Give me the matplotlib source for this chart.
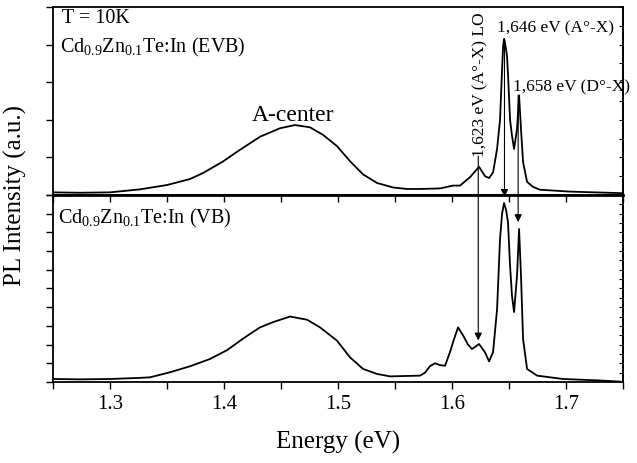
"""PL spectra of CdZnTe:In (EVB / VB), two stacked panels"""

import matplotlib
matplotlib.use('Agg')
import matplotlib.pyplot as plt
from matplotlib.ticker import MultipleLocator, NullFormatter

# Top panel: Cd0.9Zn0.1Te:In (EVB)
evb_energy = [1.2500, 1.2737, 1.3000, 1.3263, 1.3500, 1.3702, 1.3816, 1.3991, 1.4114,
              1.4228, 1.4316, 1.4491, 1.4623, 1.4754, 1.4868, 1.4991, 1.5105, 1.5219,
              1.5342, 1.5482, 1.5605, 1.5719, 1.5895, 1.6009, 1.6070, 1.6158, 1.6237,
              1.6289, 1.6325, 1.6360, 1.6395, 1.6421, 1.6439, 1.6448, 1.6456, 1.6465,
              1.6482, 1.6491, 1.6509, 1.6526, 1.6544, 1.6570, 1.6588, 1.6605, 1.6623,
              1.6658, 1.6711, 1.6772, 1.7035, 1.7474, 1.7500]
evb_intensity = [0.014, 0.012, 0.014, 0.030, 0.053, 0.085, 0.117, 0.178, 0.230,
                 0.275, 0.310, 0.355, 0.372, 0.360, 0.320, 0.260, 0.180, 0.110,
                 0.064, 0.040, 0.032, 0.032, 0.035, 0.050, 0.050, 0.095, 0.150,
                 0.100, 0.090, 0.120, 0.245, 0.400, 0.670, 0.790, 0.830, 0.810,
                 0.740, 0.640, 0.400, 0.315, 0.245, 0.350, 0.530, 0.350, 0.175,
                 0.070, 0.043, 0.028, 0.018, 0.010, 0.010]

# Bottom panel: Cd0.9Zn0.1Te:In (VB)
vb_energy = [1.2500, 1.2737, 1.3000, 1.3263, 1.3351, 1.3526, 1.3702, 1.3877, 1.4026,
             1.4140, 1.4228, 1.4316, 1.4430, 1.4579, 1.4728, 1.4842, 1.4991, 1.5105,
             1.5219, 1.5342, 1.5456, 1.5719, 1.5763, 1.5807, 1.5851, 1.5895, 1.5939,
             1.5982, 1.6018, 1.6053, 1.6096, 1.6140, 1.6175, 1.6237, 1.6289, 1.6325,
             1.6360, 1.6395, 1.6421, 1.6439, 1.6456, 1.6474, 1.6491, 1.6509, 1.6526,
             1.6544, 1.6570, 1.6588, 1.6605, 1.6623, 1.6658, 1.6746, 1.6974, 1.7298,
             1.7474]
vb_intensity = [0.016, 0.014, 0.016, 0.022, 0.025, 0.052, 0.084, 0.123, 0.170,
                0.220, 0.257, 0.292, 0.320, 0.350, 0.333, 0.292, 0.221, 0.132,
                0.070, 0.043, 0.030, 0.034, 0.050, 0.085, 0.100, 0.090, 0.087,
                0.160, 0.230, 0.292, 0.250, 0.200, 0.176, 0.203, 0.159, 0.110,
                0.160, 0.390, 0.765, 0.900, 0.957, 0.920, 0.854, 0.620, 0.460,
                0.374, 0.568, 0.818, 0.568, 0.230, 0.070, 0.034, 0.016, 0.008,
                0.002]

# Peak markers: energy, arrow start (top panel), arrow tip (bottom panel)
peak_energy = [1.623, 1.646, 1.658]
arrow_start = [0.207, 0.83, 0.53]
arrow_tip = [0.222, 0.99, 0.855]

xticks = [1.3, 1.4, 1.5, 1.6, 1.7]


def main():
    plt.rcParams['font.family'] = ['Liberation Serif', 'DejaVu Serif']
    plt.rcParams['mathtext.default'] = 'regular'

    fig = plt.figure(figsize=(6.37, 4.64), dpi=100)
    ax_bot = fig.add_axes([0.0832, 0.1746, 0.8949, 0.4030])
    ax_top = fig.add_axes([0.0832, 0.5776, 0.8949, 0.4052])

    ax_top.plot(evb_energy, evb_intensity, color='black', lw=1.3)
    ax_bot.plot(vb_energy, vb_intensity, color='black', lw=1.3)

    for ax, ystep in ((ax_top, 0.2), (ax_bot, 0.1)):
        ax.set_facecolor('none')
        ax.set_xlim(1.25, 1.75)
        ax.set_ylim(0, 1)
        ax.xaxis.set_major_locator(MultipleLocator(0.1))
        ax.xaxis.set_minor_locator(MultipleLocator(0.05))
        ax.yaxis.set_major_locator(MultipleLocator(ystep))
        ax.yaxis.set_major_formatter(NullFormatter())
        ax.tick_params(axis='x', which='both', direction='out', length=5, width=1,
                       top=False, labelsize=15)
        ax.tick_params(axis='y', which='major', direction='out', length=5, width=1,
                       right=False)
        for sp in ax.spines.values():
            sp.set_linewidth(1.3)
        # right side: small inward ticks
        sec = ax.secondary_yaxis('right')
        sec.yaxis.set_major_locator(MultipleLocator(ystep / 2))
        sec.yaxis.set_major_formatter(NullFormatter())
        sec.tick_params(direction='in', length=3, width=0.8)
        sec.spines['right'].set_linewidth(1.3)

    ax_top.spines['bottom'].set_linewidth(2)
    ax_top.xaxis.set_major_formatter(NullFormatter())
    ax_bot.set_xticks(xticks)
    ax_bot.set_xlabel('Energy (eV)', fontsize=18, labelpad=12)
    fig.text(0.025, 0.5776, 'PL Intensity (a.u.)', rotation=90, fontsize=18,
             ha='center', va='center')

    # labels
    ax_top.text(0.016, 0.945, 'T = 10K', transform=ax_top.transAxes,
                fontsize=14.5, va='center', ha='left')
    ax_top.text(0.012, 0.79, r'Cd$_{0.9}$Zn$_{0.1}$Te:In (EVB)', transform=ax_top.transAxes,
                fontsize=14.5, va='center', ha='left')
    ax_bot.text(0.009, 0.88, r'Cd$_{0.9}$Zn$_{0.1}$Te:In (VB)', transform=ax_bot.transAxes,
                fontsize=14.5, va='center', ha='left')
    ax_top.text(1.4605, 0.43, 'A-center', fontsize=17, ha='center', va='center')

    ax_top.text(1.6246, 0.207, '1,623 eV (A°-X) LO', rotation=90, fontsize=12.5,
                ha='center', va='bottom')
    ax_top.text(1.6395, 0.894, '1,646 eV (A°-X)', fontsize=12.5, ha='left', va='center')
    ax_top.text(1.6535, 0.58, '1,658 eV (D°-X)', fontsize=12.5, ha='left', va='center',
                clip_on=False)

    # arrows from top panel down to the bottom panel peaks
    for e, y0, y1 in zip(peak_energy, arrow_start, arrow_tip):
        ax_top.annotate('', xy=(e, y1), xycoords=ax_bot.transData,
                        xytext=(e, y0), textcoords=ax_top.transData,
                        annotation_clip=False,
                        arrowprops=dict(arrowstyle='-|>', lw=0.8, color='black',
                                        mutation_scale=11, shrinkA=0, shrinkB=0))

    fig.savefig('out.png', dpi=100)


if __name__ == '__main__':
    main()
